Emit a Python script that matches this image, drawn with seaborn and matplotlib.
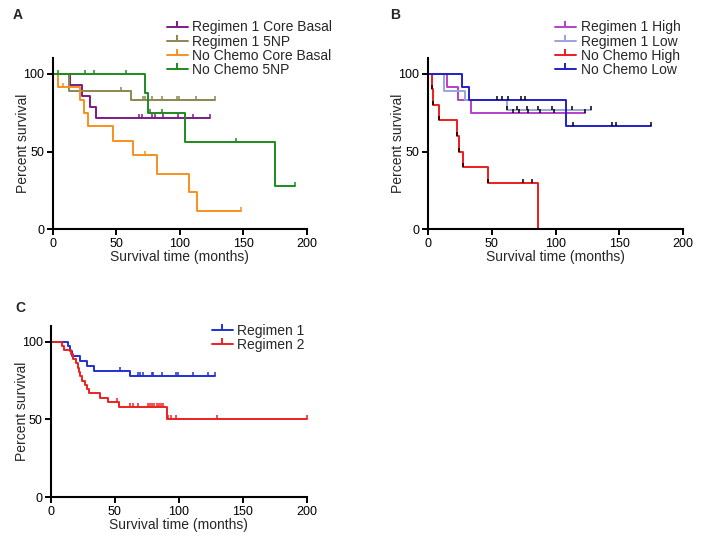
import numpy as np
import seaborn as sns
import matplotlib
matplotlib.use("Agg")
import matplotlib.pyplot as plt
from matplotlib.lines import Line2D

sns.set_style("ticks")
plt.rcParams["font.family"] = ["Liberation Sans", "DejaVu Sans"]

# ---------------- Data ----------------
# Panel A
a_labels = ["Regimen 1 Core Basal", "Regimen 1 5NP", "No Chemo Core Basal", "No Chemo 5NP"]
a_r1cb_t = [0, 14, 23, 29, 34, 124]
a_r1cb_s = [100, 92.9, 85.7, 78.6, 71.4, 71.4]
a_r1cb_c = [68, 70.6, 78, 80.6, 87, 99, 110.7, 124]
a_r15_t = [0, 13, 62, 128]
a_r15_s = [100, 88.9, 83.3, 83.3]
a_r15_c = [54, 71.4, 72.7, 78.4, 86.3, 97.6, 99.4, 112.8, 128]
a_nccb_t = [0, 4.2, 21.5, 25, 27.5, 47.6, 63.5, 82, 107.6, 114, 148]
a_nccb_s = [100, 91.7, 83.3, 75, 66.7, 57.1, 47.6, 35.7, 23.8, 11.9, 11.9]
a_nccb_c = [8.4, 72.7, 148]
a_nc5_t = [0, 73, 75, 104, 175, 191]
a_nc5_s = [100, 87.5, 75, 56.25, 28.1, 28.1]
a_nc5_c = [3.8, 25.2, 32.3, 57.8, 76.5, 85.7, 144, 191]

# Panel B
b_labels = ["Regimen 1 High", "Regimen 1 Low", "No Chemo High", "No Chemo Low"]
b_r1h_t = [0, 15, 24, 34, 123]
b_r1h_s = [100, 91.7, 83.3, 75, 75]
b_r1h_c = [66.5, 71.4, 78.8, 87.9, 98.8, 123]
b_r1l_t = [0, 13, 29, 62, 127.5]
b_r1l_s = [100, 88.9, 83.3, 76.9, 76.9]
b_r1l_c = [62.3, 70.1, 77.5, 86.1, 97, 112.7, 127.5]
b_nch_t = [0, 3.6, 4.4, 9.1, 23.2, 24.8, 27.9, 47.5, 86]
b_nch_s = [100, 90, 80, 70, 60, 50, 40, 30, 0]
b_nch_c = [3.6, 4.4, 9.1, 23.2, 24.8, 27.9, 47.5, 74.8, 81.9]
b_ncl_t = [0, 26.6, 32.3, 108, 174.7]
b_ncl_s = [100, 91.7, 83.3, 66.7, 66.7]
b_ncl_c = [54, 57.9, 63.1, 72.8, 76.5, 113.5, 144, 147.3, 174.7]

# Panel C
c_labels = ["Regimen 1", "Regimen 2"]
c_r1_t = [0, 13, 14.5, 16.5, 23, 28.5, 34, 62, 128.3]
c_r1_s = [100, 96.9, 93.8, 90.6, 87.5, 84.4, 81.3, 77.9, 77.9]
c_r1_c = [54, 67.8, 69.6, 72.2, 78.8, 80, 86.6, 97.6, 99.6, 111.4, 123.1, 128.3]
c_r2_t = [0, 8.9, 10.4, 15.6, 17.5, 19.6, 20.9, 21.9, 23, 24.5, 26.6, 28.4, 30,
          38.3, 44.3, 53.5, 90.5, 200]
c_r2_s = [100, 97.2, 94.4, 91.7, 88.9, 86.1, 83.3, 80.6, 77.8, 75, 72.2, 69.4, 66.7,
          63.9, 61.1, 58.3, 50, 50]
c_r2_c = [52, 61.8, 63.9, 67.8, 75.7, 77.5, 79.3, 80.8, 82.7, 84.5, 86.1, 87.9,
          91.8, 93.9, 97.6, 130.1, 200]

# ---------------- Styles ----------------
a_colors = ["#7d1a85", "#8c8750", "#f7901e", "#1f8a1f"]
b_colors = ["#b440c8", "#9aa3dc", "#ee1c1c", "#2020c8"]
c_colors = ["#2130d0", "#ee2020"]

W, H = 708, 538
fig = plt.figure(figsize=(W / 100, H / 100), dpi=100)


def px_axes(x0, x1, ytop, ybot):
    return fig.add_axes([x0 / W, 1 - ybot / H, (x1 - x0) / W, (ybot - ytop) / H])


def km_at(t, s, tc):
    t = np.asarray(t, float)
    s = np.asarray(s, float)
    idx = np.searchsorted(t, tc, side="right") - 1
    return s[np.clip(idx, 0, len(s) - 1)]


def draw_curve(ax, t, s, cens, color, tick_color=None):
    sns.lineplot(x=t, y=s, ax=ax, color=color, lw=1.4, estimator=None, sort=False,
                 drawstyle="steps-post", clip_on=False)
    tc = np.asarray(cens, float)
    ax.plot(tc, km_at(t, s, tc), ls="none", marker=2, ms=3.2, mew=1.1,
            color=tick_color or color, clip_on=False, zorder=3)


def style_axes(ax):
    ax.set_xlim(0, 200)
    ax.set_ylim(0, 110)
    ax.set_xticks([0, 50, 100, 150, 200])
    ax.set_yticks([0, 50, 100])
    sns.despine(ax=ax)
    for sp in ("left", "bottom"):
        ax.spines[sp].set_linewidth(1.5)
        ax.spines[sp].set_color("black")
    ax.tick_params(axis="both", direction="out", length=4, width=1.4, labelsize=9,
                   colors="black", pad=2)
    ax.set_xlabel("Survival time (months)", fontsize=10, labelpad=0)
    ax.set_ylabel("Percent survival", fontsize=10, labelpad=-5)


def add_legend(ax, labels, colors, left_px, top_px):
    handles = [Line2D([], [], color=c, lw=1.4, marker=2, ms=4, mew=1.4) for c in colors]
    ax.legend(handles, labels, loc="upper left",
              bbox_to_anchor=(left_px / W, 1 - top_px / H), bbox_transform=fig.transFigure,
              frameon=False, fontsize=10, borderpad=0, borderaxespad=0,
              handlelength=1.5, handletextpad=0.35, labelspacing=0.02, numpoints=1)


# Panel A
axA = px_axes(52.7, 306.7, 58.3, 229.3)
for (t, s, c), col in zip([(a_r1cb_t, a_r1cb_s, a_r1cb_c), (a_r15_t, a_r15_s, a_r15_c),
                           (a_nccb_t, a_nccb_s, a_nccb_c), (a_nc5_t, a_nc5_s, a_nc5_c)],
                          a_colors):
    draw_curve(axA, t, s, c, col)
style_axes(axA)
add_legend(axA, a_labels, a_colors, 166.7, 20.5)

# Panel B
axB = px_axes(427.7, 683.3, 58.3, 229.3)
for (t, s, c), col in zip([(b_r1h_t, b_r1h_s, b_r1h_c), (b_r1l_t, b_r1l_s, b_r1l_c),
                           (b_nch_t, b_nch_s, b_nch_c), (b_ncl_t, b_ncl_s, b_ncl_c)],
                          b_colors):
    draw_curve(axB, t, s, c, col, tick_color="black")
style_axes(axB)
add_legend(axB, b_labels, b_colors, 555, 20.5)

# Panel C
axC = px_axes(51, 306.7, 326, 497.3)
for (t, s, c), col in zip([(c_r1_t, c_r1_s, c_r1_c), (c_r2_t, c_r2_s, c_r2_c)], c_colors):
    draw_curve(axC, t, s, c, col)
style_axes(axC)
add_legend(axC, c_labels, c_colors, 211.7, 324)

# Panel letters
fig.text(13 / W, 1 - 8 / H, "A", fontsize=10, fontweight="bold", va="top", ha="left")
fig.text(390 / W, 1 - 8 / H, "B", fontsize=10, fontweight="bold", va="top", ha="left")
fig.text(15 / W, 1 - 301 / H, "C", fontsize=10, fontweight="bold", va="top", ha="left")

fig.savefig("out.png", dpi=100, facecolor="white")
